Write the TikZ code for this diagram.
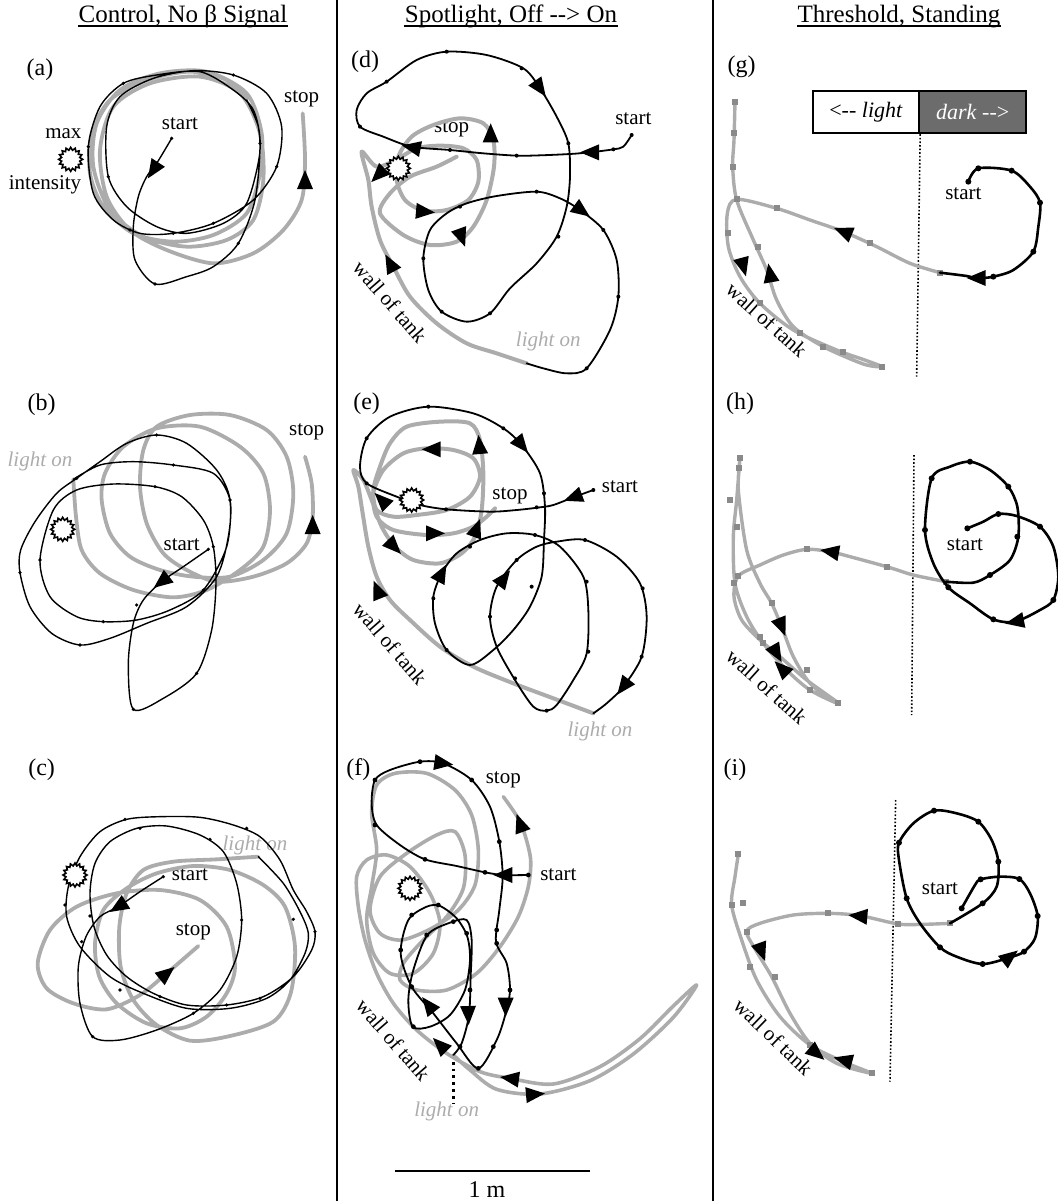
\documentclass[tikz,border=0pt]{standalone}
\usepackage{fontspec}
\setmainfont{Liberation Serif}
\usetikzlibrary{shapes.geometric}

\definecolor{trail}{RGB}{172,172,172}
\definecolor{shade}{RGB}{108,108,108}

\tikzset{
  darkpath/.style={line width=#1, line join=round, line cap=round},
  darkpath/.default=0.7pt,
  litpath/.style={trail, line width=#1, line join=round, line cap=round},
  litpath/.default=1.9pt,
  dot/.style={circle, fill=black, inner sep=0pt, minimum size=#1},
  dot/.default=2pt,
  sq/.style={rectangle, fill=trail!80!black, inner sep=0pt, minimum size=3pt},
  sun/.style={star, star points=16, star point ratio=1.3, draw, line width=0.8pt, fill=white, inner sep=0pt, minimum size=12pt},
  head/.style={font=\fontsize{12.5}{14}\selectfont, inner sep=0pt},
  lab/.style={font=\fontsize{12}{14}\selectfont},
  ann/.style={font=\fontsize{10.5}{12}\selectfont, inner sep=1pt},
  lighton/.style={font=\fontsize{10.5}{12}\selectfont\itshape, text=trail, inner sep=1pt},
  wall/.style={ann, rotate=#1},
  boxl/.style={draw, line width=0.9pt, fill=white, minimum width=53.3pt, minimum height=21.3pt, inner sep=0pt, font=\fontsize{11}{12}\selectfont},
  boxr/.style={boxl, fill=shade, text=white},
  arrhead/.pic={\fill (10,0) -- (-9,8) -- (-9,-8) -- cycle;}
}

\begin{document}
\begin{tikzpicture}[x=0.5pt, y=-0.5pt]
\useasboundingbox (0,0) rectangle (1057,1201);

% column heads
\node[head, anchor=base] (t1) at (183,22) {Control, No β Signal};
\node[head, anchor=base] (t2) at (511,22) {Spotlight, Off -{}-> On};
\node[head, anchor=base] (t3) at (899,22) {Threshold, Standing};
\foreach \t in {t1,t2,t3}
  \draw[line width=0.6pt] ([yshift=-2pt]\t.base west) -- ([yshift=-2pt]\t.base east);

\draw[line width=0.7pt] (337,0) -- (337,1201);
\draw[line width=0.7pt] (713,0) -- (713,1201);

% scale bar
\draw[line width=1pt] (395,1171) -- (590,1171);
\node[lab] (onem) at (487,1190) {1 m};

%%%%%%%%%%%%%%%%%%%%%%%%%%%%%%%%%%%%%%%%%%%%%% (a)
\begin{scope}[shift={(0,0)}, scale=1/3]
\node[lab] (pa) at (120,210) {(a)};
\node[ann] (maxa) at (190,400) {max};
\node[ann] (inta) at (135,555) {intensity};
\node[ann] (starta) at (540,372) {start};
\node[ann] (stopa) at (905,295) {stop};
\draw[litpath] plot[smooth] coordinates {(740,300) (680,240) (570,215) (440,240) (330,300) (275,400) (270,520) (310,620) (400,700) (520,725) (640,705) (740,640) (780,520) (785,400) (740,280) (620,215) (480,220) (360,270) (290,370) (280,500) (330,630) (430,710) (560,740) (680,720) (760,660) (790,540) (780,400) (720,280) (600,230) (450,250) (340,320) (300,450) (320,590) (390,690) (500,750) (640,790) (760,760) (850,690) (905,600) (915,480) (908,340)};
\draw[darkpath] plot[smooth] coordinates {(515,415) (470,490) (440,530) (415,590) (400,680) (405,780) (465,852) (560,830) (640,800) (715,730) (765,600) (780,430) (760,330) (700,270) (600,215) (470,225) (370,250) (300,320) (265,440) (280,580) (340,660) (420,700) (520,700) (640,670) (760,600) (830,500) (845,380) (800,280) (700,225) (580,212) (460,235) (360,290) (320,380) (325,530) (380,620) (470,680) (560,700) (670,670) (740,610) (778,470) (775,380) (740,300)};
\foreach \x/\y [count=\i] in {515/415,465/852,715/730,780/430,370/250,325/530,520/700,640/670,830/500,700/225,265/440,390/690}
  \node[dot=1.8pt] (da\i) at (\x,\y) {};
\node[sun] (suna) at (212,478) {};
\pic[rotate=237] at (460,510) {arrhead};
\pic[rotate=90] at (915,540) {arrhead};
\end{scope}

%%%%%%%%%%%%%%%%%%%%%%%%%%%%%%%%%%%%%%%%%%%%%% (b)
\begin{scope}[shift={(0,390)}, scale=1/3]
\node[lab] (pb) at (125,45) {(b)};
\node[lighton] (lonb) at (120,215) {light on};
\node[ann] (stopb) at (920,125) {stop};
\node[ann] (startb) at (545,465) {start};
\draw[litpath] plot[smooth] coordinates {(220,268) (228,380) (245,480) (300,550) (400,600) (520,622) (620,600) (720,540) (790,470) (810,360) (790,250) (720,170) (600,110) (470,115) (370,170) (315,250) (305,330) (330,430) (390,500) (480,540) (580,560) (690,560) (790,510) (860,430) (880,310) (860,200) (800,120) (690,75) (570,75) (470,110) (430,180) (420,290) (440,400) (490,490) (560,540) (650,575) (760,560) (860,520) (920,460) (938,380) (935,280) (915,200)};
\draw[darkpath] plot[smooth] coordinates {(625,478) (550,530) (485,575) (430,630) (400,700) (385,820) (400,958) (490,925) (590,850) (635,720) (648,580) (640,470) (610,390) (545,320) (465,290) (340,282) (230,300) (160,360) (120,510) (150,620) (230,680) (310,695) (410,690) (510,660) (610,600) (680,470) (690,330) (650,240) (560,160) (470,135) (380,160) (300,215) (230,265) (170,310) (105,395) (62,480) (60,548) (90,650) (155,730) (240,765) (330,745) (440,700) (560,650) (650,560) (685,440) (690,330) (640,250) (520,225) (400,215) (300,225) (220,268)};
\foreach \x/\y [count=\i] in {625/478,400/958,590/850,640/470,465/290,120/510,310/695,610/600,690/330,470/135,230/265,60/548,240/765,410/645,520/225}
  \node[dot=1.8pt] (db\i) at (\x,\y) {};
\node[sun] (sunb) at (188,418) {};
\pic[rotate=218] at (485,575) {arrhead};
\pic[rotate=90] at (938,405) {arrhead};
\end{scope}

%%%%%%%%%%%%%%%%%%%%%%%%%%%%%%%%%%%%%%%%%%%%%% (c)
\begin{scope}[shift={(0,760)}, scale=1/3]
\node[lab] (pc) at (125,30) {(c)};
\node[lighton] (lonc) at (765,255) {light on};
\node[ann] (startc) at (570,345) {start};
\node[ann] (stopc) at (580,515) {stop};
\draw[litpath] plot[smooth] coordinates {(775,290) (650,298) (520,305) (430,330) (380,400) (358,500) (362,620) (400,720) (470,795) (570,842) (690,828) (820,785) (872,700) (885,560) (855,440) (790,375) (690,330) (580,318) (470,340) (380,385) (310,450) (285,550) (298,650) (350,730) (440,790) (540,805) (620,770) (680,700) (705,620) (680,500) (600,420) (480,390) (350,400) (230,440) (150,510) (113,610) (140,685) (220,730) (320,748) (420,705) (500,640) (595,558)};
\draw[darkpath] plot[smooth] coordinates {(490,350) (420,395) (355,440) (300,470) (258,530) (235,620) (240,730) (278,830) (360,840) (470,810) (580,760) (660,690) (710,590) (725,480) (710,370) (670,275) (600,225) (500,198) (410,205) (330,245) (285,310) (270,400) (282,500) (320,585) (380,650) (460,700) (560,735) (680,735) (790,710) (880,650) (935,570) (945,515) (920,455) (880,390) (840,300) (780,230) (700,195) (600,172) (480,170) (380,178) (300,215) (240,290) (205,380) (200,470) (240,560) (330,650) (430,700) (560,745) (690,745) (800,715) (870,660) (915,580) (925,520) (900,455) (850,370) (775,290)};
\foreach \x/\y [count=\i] in {490/350,278/830,580/760,725/480,630/238,420/205,270/468,360/690,480/710,680/735,780/715,880/478,945/515,740/205,375/178,195/435,245/545}
  \node[dot=1.8pt] (dc\i) at (\x,\y) {};
\node[sun] (sunc) at (225,345) {};
\pic[rotate=212] at (355,440) {arrhead};
\pic[rotate=39] at (500,640) {arrhead};
\end{scope}

%%%%%%%%%%%%%%%%%%%%%%%%%%%%%%%%%%%%%%%%%%%%%% (d)
\begin{scope}[shift={(340,0)}, scale=1/3]
\node[lab] (pd) at (75,185) {(d)};
\node[ann] (startd) at (880,355) {start};
\node[ann] (stopd) at (335,385) {stop};
\node[wall=-49] (walld) at (150,905) {wall of tank};
\node[lighton] (lond) at (625,1025) {light on};
\draw[litpath=2pt] plot[smooth] coordinates {(560,1090) (470,1060) (380,1030) (290,970) (210,890) (160,800) (120,720) (95,620) (85,540) (65,455) (110,500) (170,478) (230,445) (300,437) (370,445) (410,480) (415,545) (385,600) (320,630) (250,632) (195,600) (170,540) (175,470) (215,410) (280,375) (360,355) (430,370) (460,420) (462,500) (440,600) (400,680) (350,725) (270,735) (190,705) (120,640) (150,580) (210,530) (290,500) (350,470)};
\draw[darkpath=0.9pt] plot[smooth] coordinates {(875,405) (850,440) (820,448) (750,457) (690,462) (600,466) (530,467) (430,460) (330,450) (215,440) (130,410) (60,380) (50,330) (80,280) (140,245) (230,180) (320,155) (440,165) (550,205) (600,265) (650,350) (685,430) (690,530) (680,620) (650,710) (590,790) (510,865) (450,940) (380,965) (305,935) (265,870) (250,775) (270,690) (320,640) (380,610) (470,588) (590,575) (660,595) (720,630) (790,690) (830,780) (835,890) (810,990) (740,1105) (680,1120) (610,1105) (560,1090)};
\foreach \x/\y [count=\i] in {875/405,820/448,530/467,330/450,60/380,140/245,320/155,545/205,685/430,655/710,590/575,360/620,250/775,305/935,450/940,790/690,835/890,740/1105}
  \node[dot=2pt] (dd\i) at (\x,\y) {};
\node[sun] (sund) at (175,505) {};
\pic[rotate=180] at (750,457) {arrhead};
\pic[rotate=305] at (600,265) {arrhead};
\pic[rotate=169] at (215,442) {arrhead};
\pic[rotate=324] at (725,632) {arrhead};
\pic[rotate=90] at (452,400) {arrhead};
\pic[rotate=225] at (115,525) {arrhead};
\pic[rotate=-5] at (255,635) {arrhead};
\pic[rotate=290] at (365,712) {arrhead};
\pic[rotate=118] at (150,790) {arrhead};
\end{scope}

%%%%%%%%%%%%%%%%%%%%%%%%%%%%%%%%%%%%%%%%%%%%%% (e)
\begin{scope}[shift={(340,390)}, scale=1/3]
\node[lab] (pe) at (80,40) {(e)};
\node[ann] (starte) at (840,290) {start};
\node[ann] (stope) at (510,318) {stop};
\node[wall=-49] (walle) at (150,760) {wall of tank};
\node[lighton] (lone) at (780,1025) {light on};
\draw[litpath=2pt] plot[smooth] coordinates {(760,970) (640,925) (520,880) (400,830) (300,770) (210,690) (150,630) (110,560) (85,470) (68,370) (55,290) (40,240) (70,270) (95,330) (125,410) (165,470) (220,510) (300,520) (365,490) (405,440) (425,360) (430,250) (420,150) (390,100) (300,95) (200,110) (150,160) (120,230) (100,300) (110,360) (160,380) (230,375) (320,360) (390,320) (420,260) (400,205) (340,180) (260,175) (190,190) (130,240) (100,310) (110,380) (160,420) (260,435) (340,430) (400,410) (440,380) (465,355)};
\draw[darkpath=0.9pt] plot[smooth] coordinates {(760,300) (700,322) (640,345) (600,352) (530,360) (450,365) (320,358) (240,345) (170,320) (80,280) (60,230) (80,145) (150,80) (265,50) (400,70) (490,115) (545,165) (600,250) (615,350) (612,450) (605,560) (570,650) (520,720) (460,780) (390,825) (320,780) (285,700) (280,620) (305,550) (350,490) (420,450) (500,430) (585,435) (660,470) (730,560) (745,660) (740,790) (700,870) (650,945) (620,962) (580,950) (525,870) (470,770) (450,680) (470,590) (530,510) (590,470) (650,455) (735,450) (830,500) (900,580) (920,680) (905,800) (850,890) (800,940) (760,970)};
\foreach \x/\y [count=\i] in {760/300,590/352,318/358,80/280,80/145,265/50,490/115,612/310,585/435,735/450,908/595,905/800,620/962,525/865,450/680,280/625,320/780,390/470,530/510,740/575,745/785,575/590}
  \node[dot=2pt] (de\i) at (\x,\y) {};
\node[sun] (sune) at (215,330) {};
\pic[rotate=200] at (700,322) {arrhead};
\pic[rotate=309] at (545,165) {arrhead};
\pic[rotate=62] at (305,550) {arrhead};
\pic[rotate=53] at (492,565) {arrhead};
\pic[rotate=233] at (850,890) {arrhead};
\pic[rotate=112] at (112,600) {arrhead};
\pic[rotate=314] at (162,470) {arrhead};
\pic[rotate=0] at (285,430) {arrhead};
\pic[rotate=70] at (410,415) {arrhead};
\pic[rotate=95] at (418,165) {arrhead};
\pic[rotate=180] at (275,178) {arrhead};
\pic[rotate=135] at (125,330) {arrhead};
\end{scope}

%%%%%%%%%%%%%%%%%%%%%%%%%%%%%%%%%%%%%%%%%%%%%% (f)
\begin{scope}[shift={(340,760)}, scale=1/3]
\node[lab] (pf) at (55,30) {(f)};
\node[ann] (stopf) at (490,60) {stop};
\node[ann] (startf) at (655,345) {start};
\node[wall=-49] (wallf) at (160,840) {wall of tank};
\node[lighton] (lonf) at (320,1055) {light on};
\draw[line width=1.4pt, dotted] (340,885) -- (340,1030);
\draw[litpath=1.8pt] plot[smooth] coordinates {(340,885) (390,930) (470,988) (600,1002) (750,962) (880,882) (1000,772) (1070,675) (1000,738) (900,836) (780,920) (640,972) (510,955) (420,935) (320,880) (230,810) (160,730) (110,640) (75,540) (55,440) (50,350) (80,300) (140,285) (210,320) (270,400) (300,490) (280,580) (220,640) (150,640) (100,580) (80,480) (95,380) (110,270) (95,160) (110,75) (165,40) (260,40) (345,90) (395,165) (415,270) (405,375) (355,450) (275,505) (185,540) (120,520) (90,450) (120,350) (200,280) (290,225) (345,215) (375,285) (370,385) (320,470) (245,545) (190,610) (180,660) (230,690) (320,690) (410,640) (480,560) (535,470) (565,380) (572,300) (555,225) (535,175) (490,110)};
\draw[darkpath=0.9pt] plot[smooth] coordinates {(565,345) (490,345) (435,337) (350,318) (255,298) (180,255) (110,195) (95,130) (105,60) (150,30) (240,5) (310,10) (395,60) (450,140) (478,245) (488,350) (478,450) (468,545) (500,610) (510,690) (497,760) (470,840) (415,925) (350,850) (280,760) (215,680) (182,580) (205,480) (260,440) (300,438) (350,475) (382,530) (390,600) (375,690) (330,765) (270,800) (218,800) (205,720) (220,630) (262,525) (330,488) (380,480) (395,540) (392,650) (387,765) (365,850) (340,885)};
\foreach \x/\y [count=\i] in {565/345,435/337,255/298,105/195,105/60,240/5,395/60,478/245,470/510,510/690,460/860,415/925,215/680,182/570,215/465,295/435,380/520,390/690,260/525,340/485,220/800,360/860,470/550}
  \node[dot=2.4pt] (df\i) at (\x,\y) {};
\node[sun] (sunf) at (210,385) {};
\pic[rotate=180] at (490,345) {arrhead};
\pic[rotate=-8] at (310,10) {arrhead};
\pic[rotate=270] at (497,740) {arrhead};
\pic[rotate=272] at (385,765) {arrhead};
\pic[rotate=128] at (265,735) {arrhead};
\pic[rotate=110] at (540,190) {arrhead};
\pic[rotate=135] at (300,855) {arrhead};
\pic[rotate=172] at (510,955) {arrhead};
\pic[rotate=5] at (585,1003) {arrhead};
\end{scope}

%%%%%%%%%%%%%%%%%%%%%%%%%%%%%%%%%%%%%%%%%%%%%% (g)
\begin{scope}[shift={(710,0)}, scale=1/3]
\node[lab] (pg) at (95,200) {(g)};
\node[boxl] (lightside) at (468,336) {<-{}- \textit{light}};
\node[boxr] (darkside) at (788,336) {\textit{dark} -{}->};
\draw[densely dotted, line width=0.8pt] (lightside.south east) -- (620,1130);
\node[ann] (startg) at (760,580) {start};
\node[wall=-42] (wallg) at (170,960) {wall of tank};
\draw[litpath=1.7pt] plot[smooth] coordinates {(690,818) (600,790) (500,740) (400,695) (300,660) (200,625) (80,598) (52,640) (55,740) (90,830) (150,910) (250,990) (380,1050) (470,1082) (515,1100) (460,1092) (340,1040) (250,980) (200,900) (170,810) (130,720) (80,600) (68,500) (72,420) (75,305)};
\foreach \x/\y [count=\i] in {690/818,480/730,200/625,80/598,55/700,150/910,270/1000,400/1055,515/1100,340/1040,145/740,70/500,75/305,72/400}
  \node[sq] (sg\i) at (\x,\y) {};
\draw[darkpath=1.3pt] plot[smooth] coordinates {(775,545) (805,505) (905,512) (960,560) (990,608) (985,680) (970,755) (910,810) (850,830) (800,835) (770,828) (690,818)};
\foreach \x/\y [count=\i] in {775/545,805/505,905/512,990/608,970/755,850/830}
  \node[dot=3pt] (dg\i) at (\x,\y) {};
\pic[rotate=180] at (800,834) {arrhead};
\pic[rotate=158] at (400,695) {arrhead};
\pic[rotate=285] at (100,800) {arrhead};
\pic[rotate=100] at (180,820) {arrhead};
\end{scope}

%%%%%%%%%%%%%%%%%%%%%%%%%%%%%%%%%%%%%%%%%%%%%% (h)
\begin{scope}[shift={(710,390)}, scale=1/3]
\node[lab] (ph) at (90,40) {(h)};
\draw[densely dotted, line width=0.8pt] (612,195) -- (605,975);
\node[ann] (starth) at (765,465) {start};
\node[wall=-42] (wallh) at (170,890) {wall of tank};
\draw[litpath=1.7pt] plot[smooth] coordinates {(708,575) (610,555) (530,530) (420,500) (360,485) (290,478) (220,495) (150,525) (85,558) (72,620) (95,690) (150,750) (210,800) (290,870) (385,940) (300,900) (230,840) (160,760) (110,680) (75,580) (70,440) (80,330) (90,205) (85,300) (110,480) (150,580) (185,640) (215,710) (250,800) (300,880) (370,935)};
\foreach \x/\y [count=\i] in {708/575,530/530,290/478,85/558,72/580,90/205,88/235,60/330,80/410,185/640,150/740,290/840,385/940,300/900,160/760}
  \node[sq] (sh\i) at (\x,\y) {};
\draw[darkpath=1.3pt] plot[smooth] coordinates {(772,415) (820,395) (865,372) (920,378) (990,410) (1030,470) (1045,560) (1030,630) (990,660) (915,695) (850,688) (780,640) (715,592) (670,520) (645,420) (665,265) (720,230) (780,215) (840,240) (895,290) (922,350) (925,440) (900,510) (840,555) (790,578) (708,575)};
\foreach \x/\y [count=\i] in {772/415,865/372,990/410,1030/630,850/688,715/592,645/420,665/265,780/215,895/290,922/440,840/555}
  \node[dot=3pt] (dh\i) at (\x,\y) {};
\pic[rotate=191] at (915,695) {arrhead};
\pic[rotate=170] at (360,485) {arrhead};
\pic[rotate=292] at (215,710) {arrhead};
\pic[rotate=300] at (200,790) {arrhead};
\pic[rotate=135] at (215,835) {arrhead};
\end{scope}

%%%%%%%%%%%%%%%%%%%%%%%%%%%%%%%%%%%%%%%%%%%%%% (i)
\begin{scope}[shift={(710,760)}, scale=1/3]
\node[lab] (pi) at (75,30) {(i)};
\draw[densely dotted, line width=0.8pt] (557,120) -- (540,965);
\node[ann] (starti) at (690,385) {start};
\node[wall=-44] (walli) at (190,830) {wall of tank};
\draw[litpath=1.7pt] plot[smooth] coordinates {(720,490) (640,493) (565,492) (450,467) (355,460) (250,465) (150,490) (110,515) (140,575) (185,650) (240,760) (300,850) (380,910) (485,940) (400,905) (300,855) (210,770) (140,660) (95,540) (65,435) (75,350) (85,283)};
\foreach \x/\y [count=\i] in {720/490,565/492,355/460,110/515,65/435,85/283,100/430,120/620,195/650,300/855,485/940}
  \node[sq] (si\i) at (\x,\y) {};
\draw[darkpath=1.3pt] plot[smooth] coordinates {(755,445) (795,375) (812,358) (870,350) (928,357) (960,400) (983,468) (975,535) (942,575) (900,592) (818,612) (740,590) (690,562) (630,490) (590,415) (567,300) (567,248) (610,190) (672,152) (740,160) (805,185) (845,240) (865,305) (860,380) (818,430) (720,490)};
\foreach \x/\y [count=\i] in {755/445,812/358,928/357,983/468,942/575,818/612,690/562,590/415,567/248,672/152,805/185,865/305,818/430}
  \node[dot=3pt] (di\i) at (\x,\y) {};
\pic[rotate=38] at (900,590) {arrhead};
\pic[rotate=175] at (445,468) {arrhead};
\pic[rotate=290] at (155,575) {arrhead};
\pic[rotate=320] at (320,880) {arrhead};
\pic[rotate=165] at (400,900) {arrhead};
\end{scope}

\end{tikzpicture}
\end{document}
